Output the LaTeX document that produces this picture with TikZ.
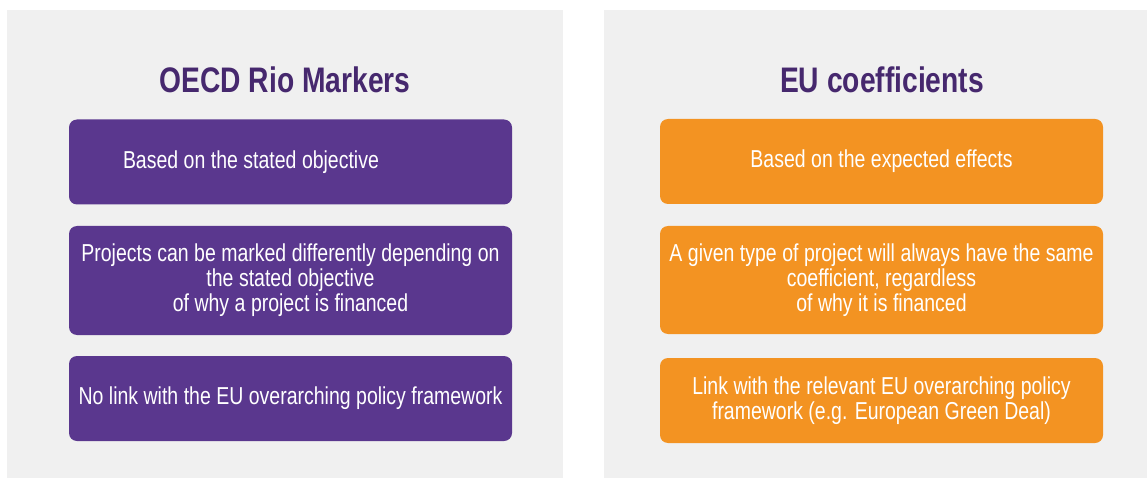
\documentclass[tikz,border=0pt]{standalone}
\usepackage{xcolor}
\usepackage{fontspec}
\setmainfont{Liberation Sans}[FakeStretch=0.795]
\usepackage{tikz}
\usetikzlibrary{positioning}

\definecolor{panelgray}{HTML}{F0F0F0}
\definecolor{riopurple}{HTML}{5A378E}
\definecolor{titlepurple}{HTML}{46286E}
\definecolor{euorange}{HTML}{F39322}
\hyphenpenalty=10000
\newcommand{\cardfont}{\fontsize{24.5}{25}\selectfont\fontdimen2\font=5.5pt\fontdimen3\font=0pt\relax}

\begin{document}
\begin{tikzpicture}[x=1pt,y=-1pt]
            \tikzstyle{panel}=[fill=panelgray];
            \tikzstyle{heading}=[text=titlepurple, font=\fontsize{35.5}{40}\selectfont\bfseries];
            \tikzstyle{card}=[rounded corners=8pt, minimum width=443pt, inner xsep=2pt, align=center, text=white, font=\cardfont];
            \tikzstyle{riocard}=[card, fill=riopurple];
            \tikzstyle{eucard}=[card, fill=euorange];
            \useasboundingbox (0,0) rectangle (1147,478);

            % Two grey panels
            \fill[panel] (7,10) rectangle (563,478);
            \fill[panel] (604,10) rectangle (1147,478);

            % Left column: OECD Rio Markers
            \node[heading] (riotitle) at (285,80) {OECD Rio Markers};
            \node[riocard, minimum height=85pt, inner xsep=54pt] (rio1) at (290.5,162) {\makebox[335pt][l]{Based on the stated objective}};
            \node[riocard, minimum height=109pt] (rio2) at (290.5,280.5) {Projects can be marked differently depending on\\ the stated objective\\ of why a project is financed};
            \node[riocard, minimum height=85pt] (rio3) at (290.5,398.5) {No link with the EU overarching policy framework};

            % Right column: EU coefficients
            \node[heading] (eutitle) at (882,80) {EU coefficients};
            \node[eucard, minimum height=85pt] (eu1) at (881.5,161.5) {Based on the expected effects};
            \node[eucard, minimum height=108pt] (eu2) at (881.5,280) {A given type of project will always have the same\\ coefficient, regardless\\ of why it is financed};
            \node[eucard, minimum height=85pt] (eu3) at (881.5,400.5) {Link with the relevant EU overarching policy\\ framework (e.g. European Green Deal)};
        \end{tikzpicture}
\end{document}
